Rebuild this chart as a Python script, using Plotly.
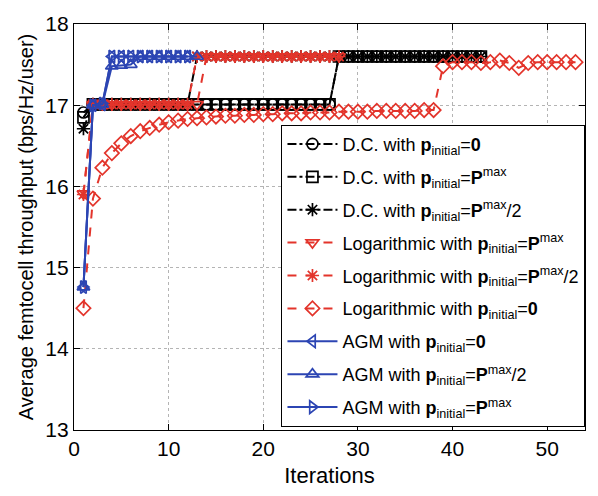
import plotly.graph_objects as go

# ---------------- data ----------------
it_dc = list(range(1, 44))
dc_p0 = [16.91, 17.01, 17.01, 17.01, 17.01, 17.01, 17.01, 17.01, 17.01, 17.01,
         17.01, 17.01, 17.01, 17.01, 17.01, 17.01, 17.01, 17.01, 17.01, 17.01,
         17.01, 17.01, 17.01, 17.01, 17.01, 17.01, 17.01, 17.60, 17.60, 17.60,
         17.60, 17.60, 17.60, 17.60, 17.60, 17.60, 17.60, 17.60, 17.60, 17.60,
         17.60, 17.60, 17.60]
dc_pmax = [16.85, 17.01, 17.01, 17.01, 17.01, 17.01, 17.01, 17.01, 17.01, 17.01,
           17.01, 17.01, 17.01, 17.01, 17.01, 17.01, 17.01, 17.01, 17.01, 17.01,
           17.01, 17.01, 17.01, 17.01, 17.01, 17.01, 17.01, 17.60, 17.60, 17.60,
           17.60, 17.60, 17.60, 17.60, 17.60, 17.60, 17.60, 17.60, 17.60, 17.60,
           17.60, 17.60, 17.60]
dc_phalf = [16.71, 17.01, 17.01, 17.01, 17.01, 17.01, 17.01, 17.01, 17.01, 17.01,
            17.01, 17.01, 17.60, 17.60, 17.60, 17.60, 17.60, 17.60, 17.60, 17.60,
            17.60, 17.60, 17.60, 17.60, 17.60, 17.60, 17.60, 17.60, 17.60, 17.60,
            17.60, 17.60, 17.60, 17.60, 17.60, 17.60, 17.60, 17.60, 17.60, 17.60,
            17.60, 17.60, 17.60]

it_log = list(range(1, 29))
log_pmax = [15.91, 17.01, 17.01, 17.01, 17.01, 17.01, 17.01, 17.01, 17.01, 17.01,
            17.01, 17.01, 17.01, 17.60, 17.60, 17.60, 17.60, 17.60, 17.60, 17.60,
            17.60, 17.60, 17.60, 17.60, 17.60, 17.60, 17.60, 17.60]
log_phalf = [15.90, 17.01, 17.01, 17.01, 17.01, 17.01, 17.01, 17.01, 17.01, 17.01,
             17.01, 17.01, 17.60, 17.60, 17.60, 17.60, 17.60, 17.60, 17.60, 17.60,
             17.60, 17.60, 17.60, 17.60, 17.60, 17.60, 17.60, 17.60]

it_log0 = list(range(1, 54))
log_p0 = [14.50, 15.85, 16.23, 16.41, 16.53, 16.62, 16.68, 16.72, 16.76, 16.79,
          16.81, 16.83, 16.84, 16.85, 16.86, 16.87, 16.87, 16.88, 16.88, 16.89,
          16.89, 16.90, 16.90, 16.90, 16.91, 16.91, 16.91, 16.92, 16.92, 16.92,
          16.92, 16.93, 16.93, 16.93, 16.93, 16.93, 16.94, 16.94, 17.48, 17.53,
          17.53, 17.53, 17.52, 17.53, 17.55, 17.52, 17.46, 17.52, 17.53, 17.53,
          17.53, 17.53, 17.53]

it_agm0 = list(range(1, 13))
agm_p0 = [14.76, 17.00, 17.01, 17.60, 17.60, 17.60, 17.60, 17.60, 17.60, 17.60,
          17.60, 17.60]
it_agmh = list(range(1, 14))
agm_phalf = [14.76, 17.00, 17.01, 17.48, 17.49, 17.50, 17.60, 17.60, 17.60, 17.60,
             17.60, 17.60, 17.60]
it_agmm = list(range(1, 13))
agm_pmax = [14.76, 17.00, 17.02, 17.60, 17.60, 17.60, 17.60, 17.60, 17.60, 17.60,
            17.60, 17.60]

x_ticks = [0, 10, 20, 30, 40, 50]
y_ticks = [13, 14, 15, 16, 17, 18]

BLACK = "#000000"
RED = "#e3342b"
BLUE = "#2c45b3"

PI = "<b>p</b><sub>initial</sub>"
names = [
    f"D.C. with {PI}=<b>0</b>",
    f"D.C. with {PI}=<b>P</b><sup>max</sup>",
    f"D.C. with {PI}=<b>P</b><sup>max</sup>/2",
    f"Logarithmic with {PI}=<b>P</b><sup>max</sup>",
    f"Logarithmic with {PI}=<b>P</b><sup>max</sup>/2",
    f"Logarithmic with {PI}=<b>0</b>",
    f"AGM with {PI}=<b>0</b>",
    f"AGM with {PI}=<b>P</b><sup>max</sup>/2",
    f"AGM with {PI}=<b>P</b><sup>max</sup>",
]

series = [
    (it_dc, dc_p0, BLACK, "dashdot", "circle-open"),
    (it_dc, dc_pmax, BLACK, "dashdot", "square-open"),
    (it_dc, dc_phalf, BLACK, "dashdot", "asterisk-open"),
    (it_log, log_pmax, RED, "dash", "triangle-down-open"),
    (it_log, log_phalf, RED, "dash", "asterisk-open"),
    (it_log0, log_p0, RED, "dash", "diamond-open"),
    (it_agm0, agm_p0, BLUE, "solid", "triangle-left-open"),
    (it_agmh, agm_phalf, BLUE, "solid", "triangle-up-open"),
    (it_agmm, agm_pmax, BLUE, "solid", "triangle-right-open"),
]

fig = go.Figure()
for i, ((xs, ys, col, dash, sym), nm) in enumerate(zip(series, names)):
    fig.add_trace(go.Scatter(
        x=xs, y=ys, mode="lines+markers", name=nm,
        legendgroup=f"g{i}",
        line=dict(color=col, width=2, dash=dash),
        marker=dict(symbol=sym, size=11, color=col, line=dict(width=1.7, color=col)),
    ))

axis_common = dict(
    showline=True, linecolor="black", linewidth=1.2, mirror="ticks",
    ticks="inside", ticklen=6, tickcolor="black",
    showgrid=True, gridcolor="#b4b4b4", griddash="dot", gridwidth=1,
    zeroline=False,
    tickfont=dict(size=21, color="black"),
)

fig.update_layout(
    width=598, height=496,
    margin=dict(l=74, r=12, t=21, b=63),
    paper_bgcolor="white", plot_bgcolor="white",
    font=dict(family="Liberation Sans, Arial, sans-serif", color="black"),
    xaxis=dict(range=[0, 54], tickvals=x_ticks,
               title=dict(text="Iterations", font=dict(size=22), standoff=8),
               **axis_common),
    yaxis=dict(range=[13, 18], tickvals=y_ticks,
               title=dict(text="Average femtocell throughput (bps/Hz/user)",
                          font=dict(size=20), standoff=6),
               **axis_common),
    legend=dict(
        x=0.406, y=0.752, xanchor="left", yanchor="top",
        bordercolor="black", borderwidth=1, bgcolor="white",
        font=dict(size=18, color="black"),
        tracegroupgap=6.5, itemwidth=50,
    ),
)

fig.write_html("out.html")
